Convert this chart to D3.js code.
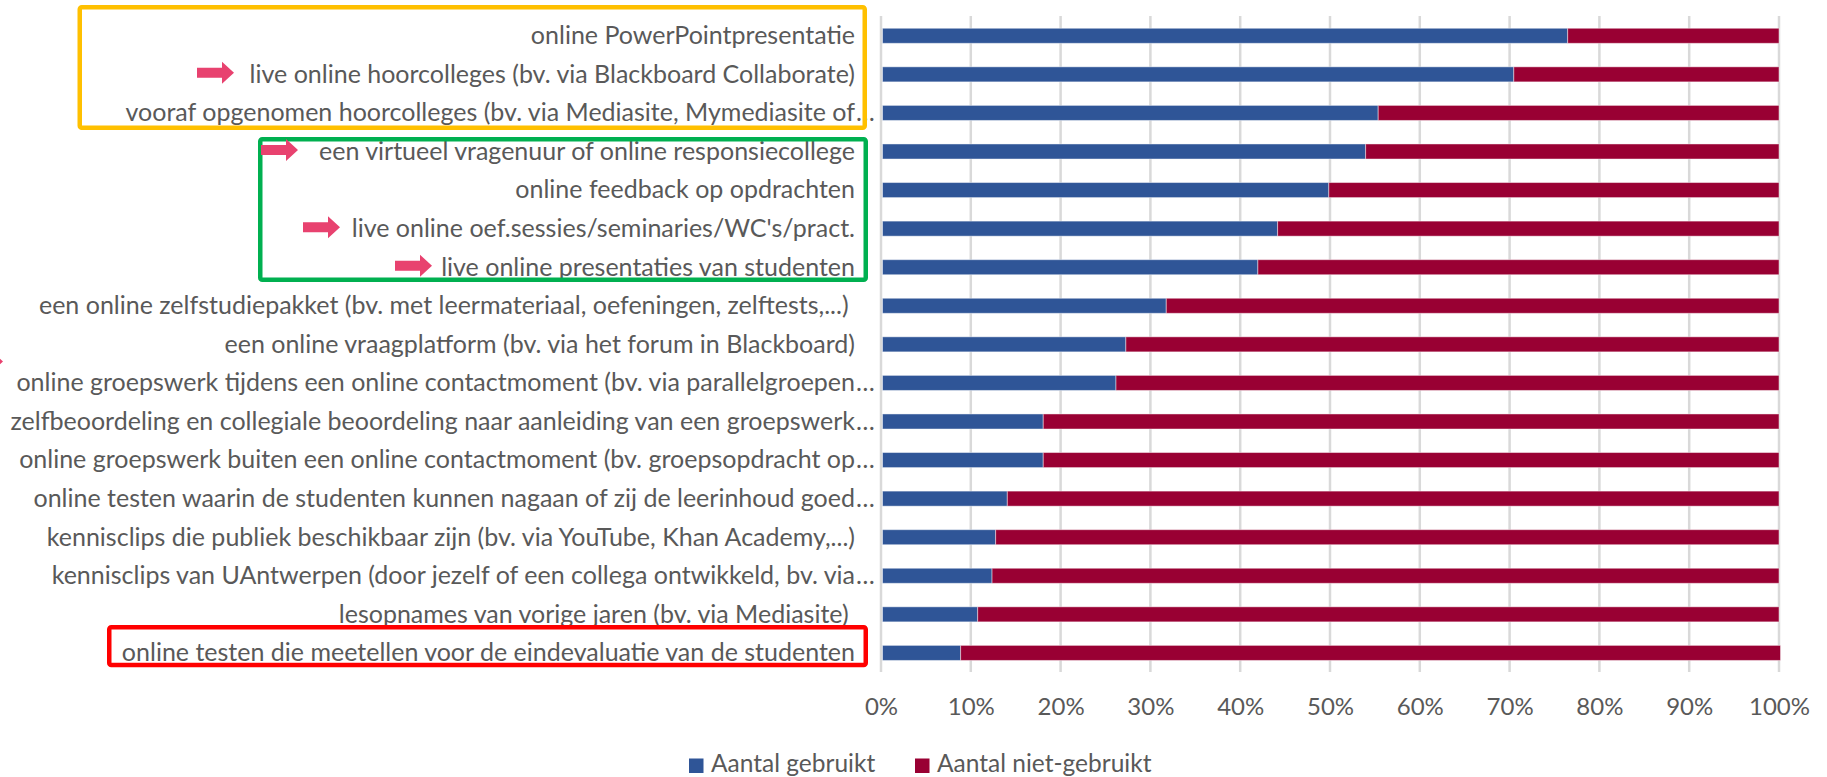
<!DOCTYPE html>
<html><head><meta charset="utf-8">
<script src="https://cdn.jsdelivr.net/npm/d3@7"></script>
<style>body{margin:0;background:#fff;overflow:hidden} text{white-space:pre}</style>
</head><body>
<svg id="chart" width="1827" height="777"></svg>
<script>
const categories = [
  "online PowerPointpresentatie",
  "live online hoorcolleges (bv. via Blackboard Collaborate)",
  "vooraf opgenomen hoorcolleges (bv. via Mediasite, Mymediasite of…",
  "een virtueel vragenuur of online responsiecollege",
  "online feedback op opdrachten",
  "live online oef.sessies/seminaries/WC's/pract.",
  "live online presentaties van studenten",
  "een online zelfstudiepakket (bv. met leermateriaal, oefeningen, zelftests,...) ",
  "een online vraagplatform (bv. via het forum in Blackboard)",
  "online groepswerk tijdens een online contactmoment (bv. via parallelgroepen…",
  "zelfbeoordeling en collegiale beoordeling naar aanleiding van een groepswerk…",
  "online groepswerk buiten een online contactmoment (bv. groepsopdracht op…",
  "online testen waarin de studenten kunnen nagaan of zij de leerinhoud goed…",
  "kennisclips die publiek beschikbaar zijn (bv. via YouTube, Khan Academy,...)",
  "kennisclips van UAntwerpen (door jezelf of een collega ontwikkeld, bv. via…",
  "lesopnames van vorige jaren (bv. via Mediasite) ",
  "online testen die meetellen voor de eindevaluatie van de studenten"
];
const gebruikt =     [76.3, 70.3, 55.2, 53.8, 49.7, 44.0, 41.8, 31.6, 27.1, 26.0, 17.9, 17.9, 13.9, 12.6, 12.2, 10.6, 8.7];
const nietGebruikt = [23.7, 29.7, 44.8, 46.2, 50.3, 56.0, 58.2, 68.4, 72.9, 74.0, 82.1, 82.1, 86.1, 87.4, 87.8, 89.4, 91.3];
const seriesNames = ["Aantal gebruikt", "Aantal niet-gebruikt"];
const tickValues = [0, 0.1, 0.2, 0.3, 0.4, 0.5, 0.6, 0.7, 0.8, 0.9, 1];
const tickLabels = ["0%", "10%", "20%", "30%", "40%", "50%", "60%", "70%", "80%", "90%", "100%"];

const colors = ["#2f5597", "#990033"];
const FONT = "Lato";
const TEXT = "#595959";

const svg = d3.select("#chart");
const x = d3.scaleLinear().domain([0, 1]).range([881, 1779]);
const y = d3.scaleBand().domain(categories).range([16.5, 672.2]).paddingInner(0.61).paddingOuter(0.305);
const cy = c => y(c) + y.bandwidth() / 2;

const rows = categories.map((c, i) => ({cat: c, g: gebruikt[i], n: nietGebruikt[i]}));
const layers = d3.stack().keys(["g", "n"]).offset(d3.stackOffsetExpand)(rows);

// gridlines
svg.append("g").selectAll("line").data(tickValues).join("line")
  .attr("x1", d => x(d)).attr("x2", d => x(d))
  .attr("y1", 16).attr("y2", 672)
  .attr("stroke", "#d9d9d9").attr("stroke-width", 2.5);

// bars
svg.append("g").selectAll("g").data(layers).join("g")
  .attr("fill", (d, i) => colors[i])
  .selectAll("rect").data(d => d).join("rect")
  .attr("x", d => x(d[0]) + 1.5)
  .attr("width", d => Math.max(0, x(d[1]) - x(d[0]) - (d[1] === 1 ? 1.5 : 0)))
  .attr("y", d => y(d.data.cat))
  .attr("height", y.bandwidth())
  .attr("stroke", "#fff").attr("stroke-opacity", 0.45).attr("stroke-width", 1);

// x axis
const xAxis = d3.axisBottom(x).tickValues(tickValues).tickFormat((d, i) => tickLabels[i]).tickSize(0).tickPadding(0);
const gx = svg.append("g").attr("transform", "translate(0,715)").call(xAxis);
gx.select(".domain").remove();
gx.selectAll("text").attr("font-family", FONT).attr("font-size", 24).attr("fill", TEXT).attr("dy", 0);

// category labels
const lab = svg.append("g").attr("font-family", FONT).attr("font-size", 25).attr("fill", TEXT);
lab.selectAll("text.cat").data(categories).join("text").attr("class", "cat")
  .attr("x", 855).attr("y", d => cy(d) + 8.3)
  .attr("text-anchor", "end")
  .text(d => d.endsWith("…") ? d.slice(0, -1) : d);
lab.selectAll("text.ell").data(categories.filter(d => d.endsWith("…"))).join("text").attr("class", "ell")
  .attr("x", 856).attr("y", d => cy(d) + 8.3)
  .text("…");

// highlight boxes
const boxes = [
  {color: "#ffc000", x0: 77.5, x1: 867, r0: 0, r1: 2, top: 30.8, bot: 17},
  {color: "#00b050", x0: 258, x1: 868, r0: 3, r1: 6, top: 14.5, bot: 14.8},
  {color: "#ff0000", x0: 107, x1: 868, r0: 16, r1: 16, top: 28, bot: 14.4}
];
const sw = 4.5;
svg.append("g").selectAll("rect").data(boxes).join("rect")
  .attr("x", d => d.x0 + sw / 2).attr("width", d => d.x1 - d.x0 - sw)
  .attr("y", d => cy(categories[d.r0]) - d.top + sw / 2)
  .attr("height", d => (cy(categories[d.r1]) + d.bot) - (cy(categories[d.r0]) - d.top) - sw)
  .attr("fill", "none").attr("stroke", d => d.color).attr("stroke-width", sw).attr("rx", 2);

// arrows
const arrows = [{row: 1, x: 197}, {row: 3, x: 261}, {row: 5, x: 303}, {row: 6, x: 395}, {row: 9, x: -34, dy: -20}];
const arrowPath = (x0, yc) => {
  const L = 37, hl = 12, sh = 5, hh = 11;
  return `M${x0},${yc - sh}L${x0 + L - hl},${yc - sh}L${x0 + L - hl},${yc - hh}L${x0 + L},${yc}L${x0 + L - hl},${yc + hh}L${x0 + L - hl},${yc + sh}L${x0},${yc + sh}Z`;
};
svg.append("g").selectAll("path").data(arrows).join("path")
  .attr("d", d => arrowPath(d.x, cy(categories[d.row]) - 1.5 + (d.dy || 0)))
  .attr("fill", "#e8426f");

// legend
const legend = svg.append("g").attr("font-family", FONT).attr("font-size", 24.5).attr("fill", TEXT);
const legX = [689, 915];
seriesNames.forEach((s, i) => {
  legend.append("rect").attr("x", legX[i]).attr("y", 758.5).attr("width", 14.5).attr("height", 14.5).attr("fill", colors[i]);
  legend.append("text").attr("x", legX[i] + 22).attr("y", 772).text(s);
});
</script>
</body></html>
